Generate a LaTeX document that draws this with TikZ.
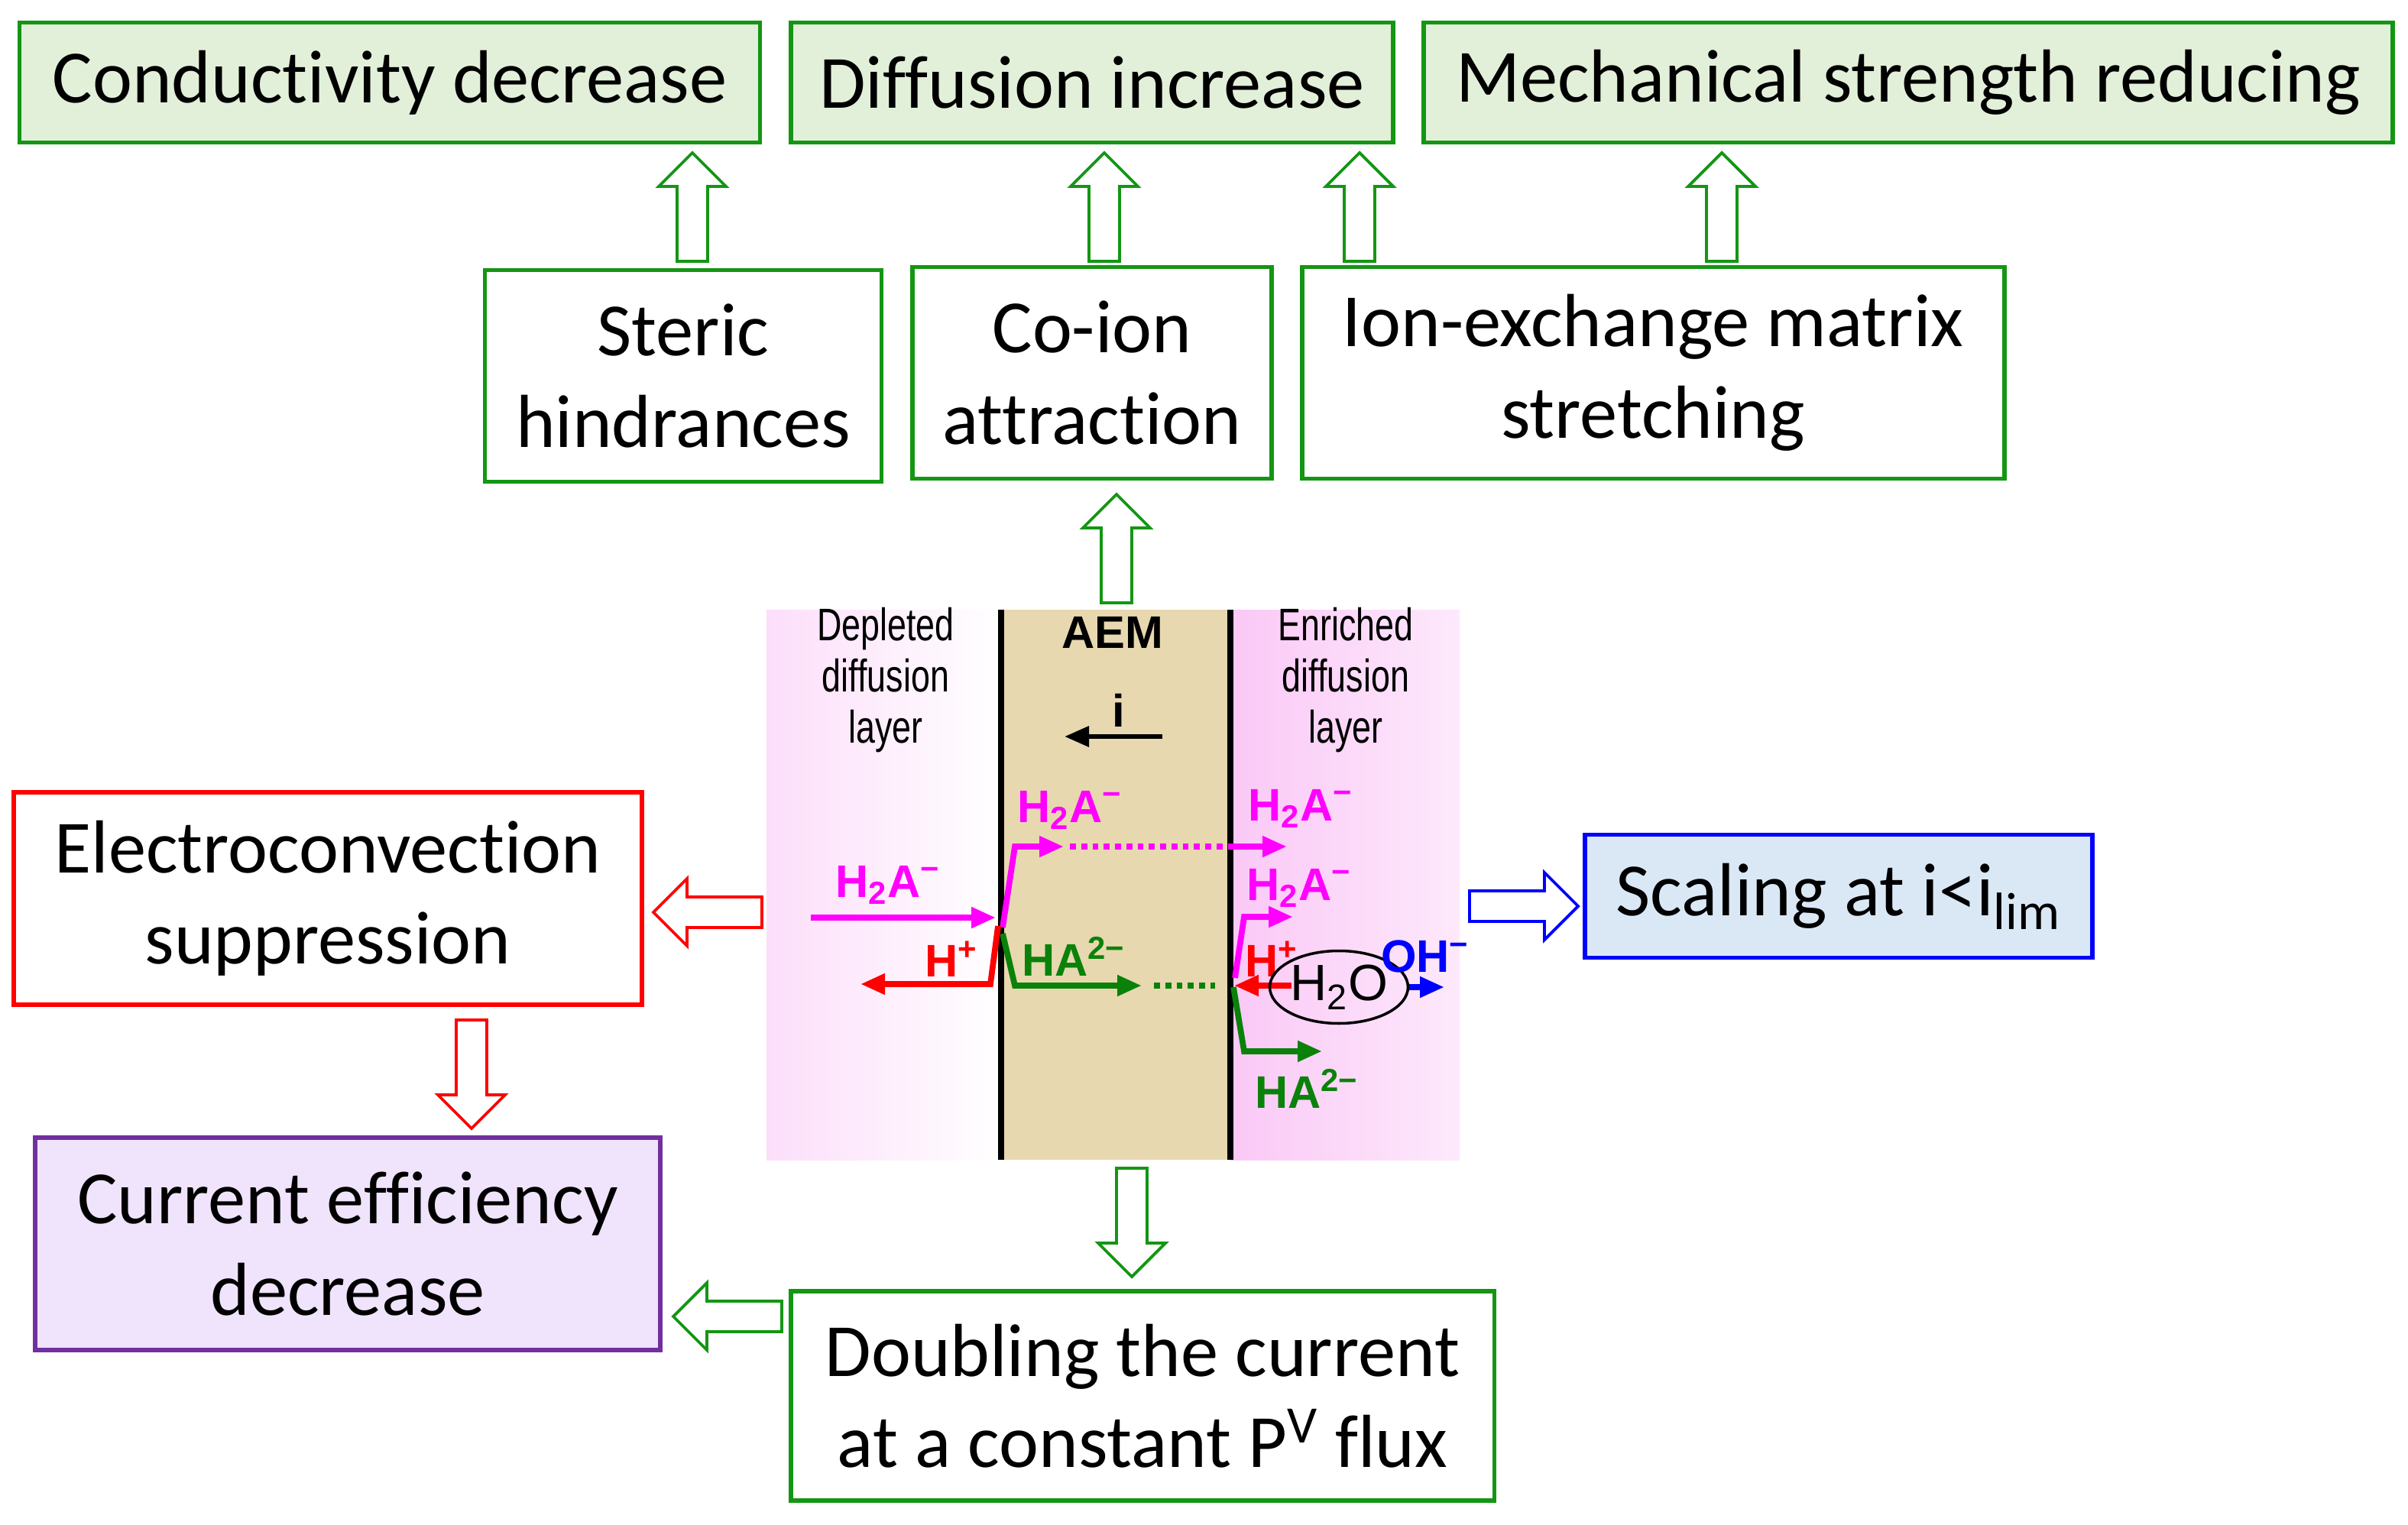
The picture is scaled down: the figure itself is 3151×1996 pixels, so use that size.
\documentclass[tikz,border=0pt]{standalone}
\usepackage{fontspec}
\setmainfont{Carlito}[RawFeature=-liga]
\newfontfamily\arialf{Liberation Sans}
\usetikzlibrary{shapes.geometric,arrows.meta}
\definecolor{bgreen}{RGB}{20,150,20}
\definecolor{tfill}{RGB}{226,240,217}
\definecolor{pfill}{RGB}{240,228,252}
\definecolor{pbord}{RGB}{112,48,160}
\definecolor{bfill}{RGB}{218,232,246}
\definecolor{memtan}{RGB}{232,216,176}
\definecolor{lpink}{RGB}{250,200,246}
\definecolor{dgreen}{RGB}{10,130,10}
\definecolor{mag}{RGB}{255,0,255}
\newcommand{\mminus}{\char"2212}
% block arrow: colour, cx, cy, dx, dy
\newcommand{\barr}[5]{\begin{scope}[shift={(#2,#3)},x={(#4*0.1mm,#5*-0.1mm)},y={(#5*0.1mm,#4*-0.1mm)}]
\draw[draw=#1,fill=white,line width=1.1pt,line join=miter] (-71,-20) -- (27,-20) -- (27,-44) -- (71,0) -- (27,44) -- (27,20) -- (-71,20) -- cycle;
\end{scope}}
\begin{document}
\begin{tikzpicture}[x=0.1mm,y=-0.1mm,
 box/.style={draw=bgreen,line width=1.7pt,align=center,font=\fontsize{28}{34}\selectfont,inner sep=0pt},
 lab/.style={font=\arialf\fontsize{17}{19}\selectfont,xscale=0.75,align=center,inner sep=0pt},
 chem/.style={font=\arialf\bfseries\fontsize{17}{17}\selectfont,inner sep=0pt},
 fl/.style={line width=2.2pt,-{Triangle[length=3.2mm,width=2.6mm]}}]
\useasboundingbox (0,0) rectangle (3151,1996);
% top boxes
\node[box,fill=tfill,minimum width=96.9mm,minimum height=15.7mm] (cond) at (510,108) {Conductivity decrease};
\node[box,fill=tfill,minimum width=78.8mm,minimum height=15.7mm] (diff) at (1429,108) {Diffusion increase};
\node[box,fill=tfill,minimum width=126.8mm,minimum height=15.7mm] (mech) at (2497,108) {Mechanical strength reducing};
% middle boxes
\node[box,minimum width=51.9mm,minimum height=27.7mm] (ster) at (894,492) {Steric\\hindrances};
\node[box,minimum width=47mm,minimum height=27.7mm] (coion) at (1429,488) {Co-ion\\attraction};
\node[box,minimum width=91.9mm,minimum height=27.7mm] (ionx) at (2163,488) {Ion-exchange matrix\\stretching};
% up arrows
\barr{bgreen}{906}{271}{0}{-1}
\barr{bgreen}{1445}{271}{0}{-1}
\barr{bgreen}{1779}{271}{0}{-1}
\barr{bgreen}{2253}{271}{0}{-1}
\barr{bgreen}{1461}{718}{0}{-1}
% side boxes
\node[box,draw=red,minimum width=82.2mm,minimum height=27.8mm] (elec) at (429,1176) {Electroconvection\\suppression};
\node[box,draw=pbord,fill=pfill,minimum width=81.8mm,minimum height=27.8mm] (curr) at (455,1628) {Current efficiency\\decrease};
\node[box,draw=blue,fill=bfill,minimum width=66.4mm,minimum height=16.1mm] (scal) at (2406,1173) {Scaling at i<i\textsubscript{lim}};
\node[box,minimum width=92.1mm,minimum height=27.4mm] (doub) at (1495,1827) {Doubling the current\\at a constant P\textsuperscript{V} flux};
\barr{red}{926}{1194}{-1}{0}
\barr{red}{617}{1406}{0}{1}
\barr{blue}{1994}{1186}{1}{0}
\barr{bgreen}{1481}{1600}{0}{1}
\barr{bgreen}{952}{1723}{-1}{0}
% central picture
\shade[left color=lpink!60,right color=white] (1003,798) rectangle (1310,1518);
\fill[memtan] (1310,798) rectangle (1610,1518);
\shade[left color=lpink,right color=lpink!40] (1610,798) rectangle (1910,1518);
\draw[line width=2.2pt] (1310,798) -- (1310,1518) (1610,798) -- (1610,1518);
\node[lab] (dep) at (1159,890) {Depleted\\diffusion\\layer};
\node[lab] (enr) at (1761,890) {Enriched\\diffusion\\layer};
\node[chem] (aem) at (1456,828) {AEM};
\node[chem] (ii) at (1464,930) {i};
\coordinate (i1) at (1521,964); \coordinate (i2) at (1393,964);
\draw[fl,line width=1.8pt] (i1) -- (i2);
% magenta
\node[chem,mag] (l1) at (1162,1158) {H\textsubscript{2}A\textsuperscript{\mminus}};
\node[chem,mag] (l2) at (1400,1060) {H\textsubscript{2}A\textsuperscript{\mminus}};
\node[chem,mag] (l3) at (1702,1058) {H\textsubscript{2}A\textsuperscript{\mminus}};
\node[chem,mag] (l4) at (1700,1162) {H\textsubscript{2}A\textsuperscript{\mminus}};
\coordinate (m0) at (1061,1201); \coordinate (m1) at (1303,1201);
\draw[fl,mag] (m0) -- (m1);
\coordinate (m2) at (1312,1214); \coordinate (m3) at (1328,1108); \coordinate (m4) at (1392,1108);
\draw[fl,mag] (m2) -- (m3) -- (m4);
\coordinate (m5) at (1400,1108); \coordinate (m6) at (1612,1108); \coordinate (m7) at (1684,1108);
\draw[mag,line width=2.2pt,dotted] (m5) -- (m6);
\draw[fl,mag] (m6) -- (m7);
\coordinate (m8) at (1616,1280); \coordinate (m9) at (1628,1200); \coordinate (m10) at (1692,1200);
\draw[fl,mag] (m8) -- (m9) -- (m10);
% red
\node[chem,red] (h1) at (1245,1255) {H\textsuperscript{+}};
\node[chem,red] (h2) at (1664,1255) {H\textsuperscript{+}};
\coordinate (r0) at (1306,1212); \coordinate (r1) at (1296,1288); \coordinate (r2) at (1126,1288);
\draw[fl,red] (r0) -- (r1) -- (r2);
\coordinate (r3) at (1690,1290); \coordinate (r4) at (1615,1290);
\draw[fl,red] (r3) -- (r4);
% green
\node[chem,dgreen] (g1) at (1405,1252) {HA\textsuperscript{2\mminus}};
\node[chem,dgreen] (g2) at (1710,1425) {HA\textsuperscript{2\mminus}};
\coordinate (g0) at (1312,1222); \coordinate (g3) at (1328,1290); \coordinate (g4) at (1494,1290);
\draw[fl,dgreen] (g0) -- (g3) -- (g4);
\coordinate (g5) at (1510,1290); \coordinate (g6) at (1590,1290);
\draw[dgreen,line width=2.2pt,dotted] (g5) -- (g6);
\coordinate (g7) at (1614,1292); \coordinate (g8) at (1628,1376); \coordinate (g9) at (1730,1376);
\draw[fl,dgreen] (g7) -- (g8) -- (g9);
% water
\node[draw,ellipse,line width=1pt,minimum width=12.5mm,minimum height=9.5mm,inner sep=0pt,font=\arialf\fontsize{19}{19}\selectfont] (w) at (1752,1292) {H\textsubscript{2}O};
\node[chem,blue] (oh) at (1865,1252) {OH\textsuperscript{\mminus}};
\coordinate (b1) at (1890,1292);
\draw[fl,blue] (w.east) -- (b1);
\end{tikzpicture}
\end{document}
